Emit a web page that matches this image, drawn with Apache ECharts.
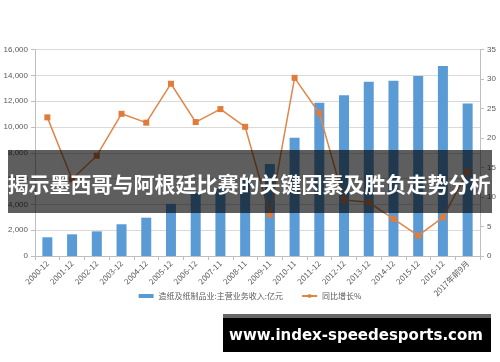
<!DOCTYPE html>
<html>
<head>
<meta charset="utf-8">
<script src="https://cdn.jsdelivr.net/npm/echarts@6/dist/echarts.min.js"></script>
<style>
html,body{margin:0;padding:0;background:#fff;}
#c{width:500px;height:362px;}
</style>
</head>
<body>
<div id="c"></div>
<script>
var categories = ["2000-12","2001-12","2002-12","2003-12","2004-12","2005-12","2006-12","2007-11","2008-11","2009-11","2010-11","2011-12","2012-12","2013-12","2014-12","2015-12","2016-12","2017年前9月"];
var revenue = [1450,1680,1910,2460,2970,4040,4860,5170,6020,7130,9170,11880,12460,13510,13570,13950,14730,11810];
var growth = [23.5,13.0,17.0,24.1,22.6,29.2,22.7,24.9,21.9,7.0,30.2,24.2,9.5,9.1,6.3,3.45,6.55,14.3];
var leftTicks = {min:0,max:16000,interval:2000};
var rightTicks = {min:0,max:35,interval:5};
var seriesNames = ["造纸及纸制品业:主营业务收入:亿元","同比增长%"];
var titleText = "揭示墨西哥与阿根廷比赛的关键因素及胜负走势分析";
var siteText = "www.index-speedesports.com";

var chart = echarts.init(document.getElementById('c'), null, {renderer:'canvas'});
var labelColor = '#595959';
var font = 'Liberation Sans, Arial, sans-serif';
chart.setOption({
  animation:false,
  grid:{left:35,right:20,top:49.5,bottom:106,containLabel:false},
  legend:{
    bottom:57, left:'center',
    itemWidth:15, itemHeight:4, itemGap:18,
    textStyle:{fontSize:8,color:labelColor,fontFamily:'Noto Sans CJK SC'},
    data:[{name:seriesNames[0],icon:'rect'},{name:seriesNames[1]}]
  },
  xAxis:{
    type:'category', data:categories,
    axisLine:{lineStyle:{color:'#bfbfbf'}},
    axisTick:{show:true,lineStyle:{color:'#bfbfbf'},length:4},
    axisLabel:{rotate:45,fontSize:8,color:labelColor,interval:0,margin:6,fontFamily:'Noto Sans CJK SC'}
  },
  yAxis:[{
    type:'value', min:leftTicks.min, max:leftTicks.max, interval:leftTicks.interval,
    axisLine:{show:true,lineStyle:{color:'#bfbfbf'}},
    axisTick:{show:true,lineStyle:{color:'#bfbfbf'},length:4},
    splitLine:{lineStyle:{color:'#d9d9d9'}},
    axisLabel:{fontSize:8,color:labelColor,fontFamily:font,margin:7,
      formatter:function(v){return v.toString().replace(/\B(?=(\d{3})+(?!\d))/g, ',');}}
  },{
    type:'value', min:rightTicks.min, max:rightTicks.max, interval:rightTicks.interval,
    position:'right',
    axisLine:{show:true,lineStyle:{color:'#bfbfbf'}},
    axisTick:{show:true,lineStyle:{color:'#bfbfbf'},length:4},
    splitLine:{show:false},
    axisLabel:{fontSize:8,color:labelColor,fontFamily:font,margin:7}
  }],
  series:[{
    name:seriesNames[0], type:'bar', data:revenue, yAxisIndex:0,
    barWidth:10, itemStyle:{color:'#5b9bd5'}
  },{
    name:seriesNames[1], type:'line', data:growth, yAxisIndex:1,
    symbol:'rect', symbolSize:6,
    lineStyle:{color:'#e0864a',width:1.5},
    itemStyle:{color:'#e07b39'}
  }],
  graphic:[
    {type:'rect',z:100,shape:{x:8,y:150,width:484,height:63},style:{fill:'rgba(0,0,0,0.63)'}},
    {type:'text',z:101,x:249,y:184,style:{text:titleText,fill:'#fff',fontSize:21,fontWeight:'bold',fontFamily:'Noto Sans CJK SC',align:'center',verticalAlign:'middle'}},
    {type:'rect',z:100,shape:{x:223,y:314,width:268,height:4},style:{fill:'#666'}},
    {type:'rect',z:100,shape:{x:223,y:318,width:268,height:34},style:{fill:'#000'}},
    {type:'text',z:101,x:356,y:336,style:{text:siteText,fill:'#fff',fontSize:15,fontWeight:'bold',fontFamily:'DejaVu Sans',align:'center',verticalAlign:'middle'}}
  ]
});
</script>
</body>
</html>
